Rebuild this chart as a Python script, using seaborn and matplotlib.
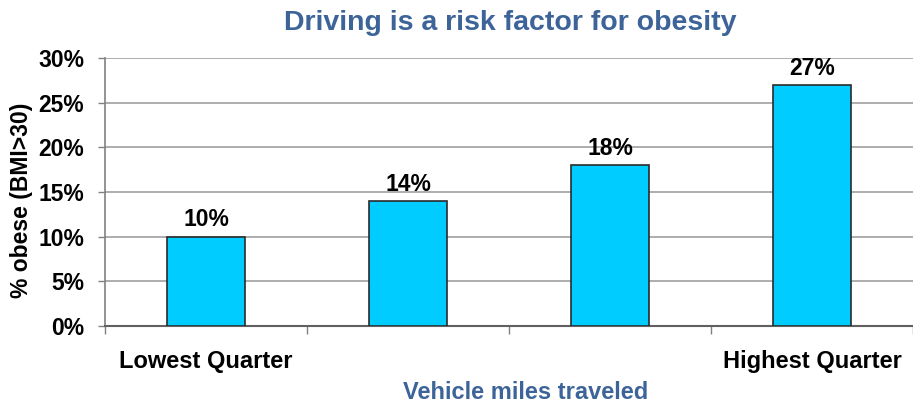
import matplotlib
matplotlib.use("Agg")
import matplotlib.pyplot as plt
import matplotlib.ticker as mticker
import seaborn as sns
import pandas as pd

# Obesity share by quarter of vehicle miles traveled
quarters = ["Lowest Quarter", "Second Quarter", "Third Quarter", "Highest Quarter"]
obese_pct = [10, 14, 18, 27]
tick_labels = ["Lowest Quarter", "", "", "Highest Quarter"]
y_ticks = [0, 5, 10, 15, 20, 25, 30]

df = pd.DataFrame({"quarter": quarters, "obese": obese_pct})

sns.set_theme(style="white")
plt.rcParams["font.family"] = ["Liberation Sans", "DejaVu Sans"]
plt.rcParams["font.weight"] = "bold"

fig = plt.figure(figsize=(9.13, 4.04), dpi=100)
ax = fig.add_axes([105 / 913, 1 - 326 / 404, 808 / 913, 268 / 404])

sns.barplot(data=df, x="quarter", y="obese", color="#00CCFF", width=0.385,
            edgecolor="#2b2b2b", linewidth=1.2, saturation=1, ax=ax, zorder=3)

for i, v in enumerate(obese_pct):
    ax.text(i, v + 1.15, f"{v}%", ha="center", va="baseline", fontsize=16.5,
            fontweight="bold", color="black")

ax.set_xlim(-0.5, 3.5)
ax.set_ylim(0, 30)
ax.set_yticks(y_ticks)
ax.yaxis.set_major_formatter(mticker.FuncFormatter(lambda v, p: f"{v:.0f}%"))
ax.set_xticks(range(len(quarters)))
ax.set_xticklabels(tick_labels, fontsize=17, fontweight="bold")
ax.set_xticks([-0.5, 0.5, 1.5, 2.5, 3.5], minor=True)
ax.tick_params(axis="x", which="major", length=0, pad=17, colors="black")
ax.tick_params(axis="x", which="minor", length=6, width=1, color="#808080",
               direction="out", bottom=True)
ax.tick_params(axis="y", length=5, width=1, color="#808080", pad=10,
               labelsize=16.5, labelcolor="black", left=True)
for lab in ax.get_yticklabels():
    lab.set_fontweight("bold")

ax.yaxis.grid(True, color="#a0a0a0", linewidth=1.2, zorder=0)
ax.set_axisbelow(True)
for s in ["top", "right"]:
    ax.spines[s].set_visible(False)
ax.spines["left"].set_color("#808080")
ax.spines["bottom"].set_color("#606060")
ax.spines["left"].set_linewidth(1.2)
ax.spines["bottom"].set_linewidth(1.5)

title_blue = "#3D6499"
ax.set_xlabel("Vehicle miles traveled", fontsize=17, fontweight="bold",
              color=title_blue)
ax.xaxis.set_label_coords(0.52, -0.205)
ax.set_ylabel("% obese (BMI>30)", fontsize=16.5, fontweight="bold", color="black")
ax.yaxis.set_label_coords(-0.089, 0.47)
ax.text(0.501, 1.13, "Driving is a risk factor for obesity", transform=ax.transAxes,
        ha="center", va="center", fontsize=20.5, fontweight="bold", color=title_blue)

fig.savefig("out.png", dpi=100)
